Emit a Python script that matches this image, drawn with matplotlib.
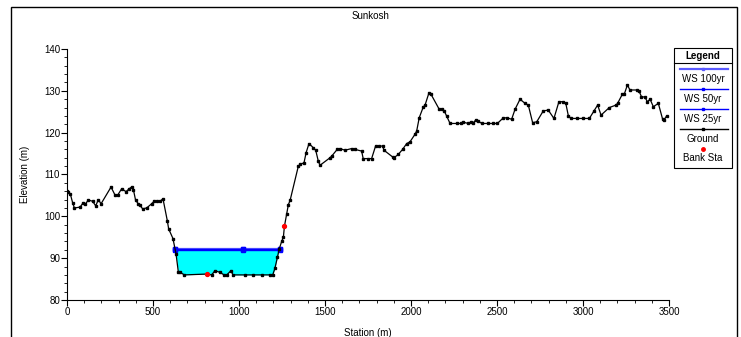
import matplotlib
matplotlib.use('Agg')
import matplotlib.pyplot as plt
from matplotlib.lines import Line2D
from matplotlib.patches import Rectangle
from matplotlib.ticker import MultipleLocator
import numpy as np

plt.rcParams['font.family'] = ['Liberation Sans', 'DejaVu Sans']

titulo = "Sunkosh"

# ground profile (station m, elevation m)
estacao = [0, 8, 19, 33, 43, 76, 95, 106, 124, 149, 167, 182, 198, 256, 279, 295, 318, 343,
           362, 378, 386, 399, 415, 424, 440, 463, 492, 506, 525, 541, 558, 583, 591, 616,
           634, 647, 659, 682, 812, 841, 860, 890, 913, 929, 953, 965, 1037, 1083, 1132,
           1180, 1196, 1209, 1223, 1234, 1248, 1258, 1264, 1277, 1287, 1297, 1345, 1355,
           1378, 1390, 1407, 1432, 1446, 1461, 1471, 1529, 1539, 1571, 1587, 1616, 1655,
           1674, 1713, 1722, 1752, 1771, 1794, 1814, 1835, 1843, 1893, 1901, 1926, 1951,
           1975, 1994, 2023, 2033, 2048, 2072, 2081, 2105, 2116, 2164, 2183, 2193, 2207,
           2227, 2265, 2288, 2304, 2333, 2346, 2358, 2376, 2391, 2411, 2450, 2475, 2502,
           2533, 2556, 2585, 2605, 2634, 2663, 2682, 2707, 2731, 2769, 2798, 2831, 2860,
           2885, 2900, 2915, 2930, 2967, 3002, 3037, 3064, 3085, 3105, 3153, 3192, 3201,
           3229, 3240, 3258, 3273, 3316, 3325, 3340, 3360, 3374, 3390, 3409, 3438, 3463,
           3471, 3486]
cota = [106, 105.7, 105.4, 103.2, 102, 102.2, 103.3, 102.9, 103.9, 103.6, 102.5, 104, 103,
        107, 105.1, 105.1, 106.6, 105.9, 106.6, 107.1, 106.4, 103.8, 103, 102.6, 101.8, 102,
        103, 103.6, 103.6, 103.6, 104.2, 99, 97, 94.7, 91, 86.8, 86.6, 86, 86.2, 86, 87,
        86.6, 86, 86, 87, 86, 86, 86, 86, 86, 86, 87.6, 90.2, 92.2, 94, 95, 97.6, 100.6,
        102.8, 103.8, 112, 112.4, 112.8, 115.2, 117.4, 116.4, 115.8, 113.2, 112.2, 114,
        114.4, 116, 116.2, 115.8, 116.2, 116, 115.6, 113.8, 113.8, 113.8, 116.8, 116.8,
        116.8, 115.8, 114.2, 114, 114.8, 116, 117.4, 117.8, 119.6, 120.4, 123.6, 126.2,
        126.5, 129.6, 129.2, 125.6, 125.7, 125.2, 124, 122.2, 122.2, 122.2, 122.5, 122.2,
        122.5, 122.2, 123, 122.8, 122.2, 122.2, 122.2, 122.2, 123.4, 123.6, 123.2, 125.6,
        128, 127, 126.6, 122.4, 122.6, 125.2, 125.4, 123.4, 127.4, 127.4, 127, 124, 123.4,
        123.4, 123.4, 123.4, 125.2, 126.6, 124.2, 126, 126.6, 127, 129.2, 129.2, 131.4,
        130.2, 130.2, 130, 128.6, 128.5, 127.4, 128, 126.2, 127, 123.2, 123, 124]

# bank stations
banco_est = [812, 1264]
banco_cota = [86.2, 97.6]

# water surfaces
ws_est = [628, 1021, 1238]
ws_nomes = ["WS 100yr", "WS 50yr", "WS 25yr"]
ws_cotas = [92.3, 92.15, 92.0]

W, H = 741, 337
fig = plt.figure(figsize=(W / 100, H / 100), dpi=100)


def fx(x):
    return x / W


def fy(y):
    return 1 - y / H


ax = fig.add_axes([fx(67), fy(300), fx(669) - fx(67), fy(49) - fy(300)])

est = np.array(estacao, dtype=float)
gr = np.array(cota, dtype=float)
nivel = ws_cotas[0]
dentro = (est >= ws_est[0] - 20) & (est <= ws_est[-1] + 20)
ax.fill_between(est, gr, nivel, where=(gr < nivel) & dentro, interpolate=True,
                color='#00FFFF', linewidth=0, zorder=1)

cores_ws = ['#5a5aff', '#0000ff', '#0000ff']
larg_ws = [1.6, 1.0, 1.0]
for c, cor, lw in zip(ws_cotas, cores_ws, larg_ws):
    ax.plot(ws_est, [c] * len(ws_est), color=cor, lw=lw, marker='s', ms=2.2,
            mec=cor, mfc=cor, zorder=2)

ax.plot(estacao, cota, color='black', lw=0.9, marker='s', ms=2.1, zorder=3)
ax.plot(banco_est, banco_cota, 'o', color='red', ms=2.8, zorder=4, lw=0)

ax.set_xlim(0, 3500)
ax.set_ylim(80, 140)
ax.spines['top'].set_visible(False)
ax.spines['right'].set_visible(False)
ax.xaxis.set_major_locator(MultipleLocator(500))
ax.xaxis.set_minor_locator(MultipleLocator(100))
ax.yaxis.set_major_locator(MultipleLocator(10))
ax.yaxis.set_minor_locator(MultipleLocator(2))
ax.tick_params(which='major', direction='out', length=4, width=0.8, labelsize=7, pad=1)
ax.tick_params(which='minor', direction='out', length=2, width=0.6)
ax.set_xlabel("Station (m)", fontsize=7, labelpad=8)
ax.set_ylabel("Elevation (m)", fontsize=7, labelpad=10)

fig.text(fx(370), fy(16), titulo, fontsize=7, ha='center', va='center')

# outer frame
fig.add_artist(Rectangle((fx(11), fy(345)), fx(737) - fx(11), fy(7) - fy(345),
                         transform=fig.transFigure, fill=False, lw=1, ec='black'))

# legend box
lx0, lx1, ly0, ly1 = 674, 732, 48, 168
fig.add_artist(Rectangle((fx(lx0), fy(ly1)), fx(lx1) - fx(lx0), fy(ly0) - fy(ly1),
                         transform=fig.transFigure, fill=True, fc='white', lw=0.8, ec='black'))
cx = (lx0 + lx1) / 2
fig.text(fx(cx), fy(56), "Legend", fontsize=7, fontweight='bold', ha='center', va='center')
fig.add_artist(Line2D([fx(lx0), fx(lx1)], [fy(63), fy(63)], transform=fig.transFigure,
                      color='black', lw=0.8))

itens = ws_nomes + ["Ground"]
cores_itens = cores_ws + ['black']
larg_itens = larg_ws + [1.0]
for i, (nome, cor, lw) in enumerate(zip(itens, cores_itens, larg_itens)):
    yl = 69 + i * 20
    fig.add_artist(Line2D([fx(680), fx(cx), fx(728)], [fy(yl)] * 3, transform=fig.transFigure,
                          color=cor, lw=lw, marker='s', ms=2, markevery=[1]))
    fig.text(fx(cx), fy(yl + 10), nome, fontsize=7, ha='center', va='center')
fig.add_artist(Line2D([fx(cx)], [fy(149)], transform=fig.transFigure, color='red',
                      marker='o', ms=2.5, lw=0))
fig.text(fx(cx), fy(158), "Bank Sta", fontsize=7, ha='center', va='center')

plt.savefig('out.png', dpi=100)
plt.close()
